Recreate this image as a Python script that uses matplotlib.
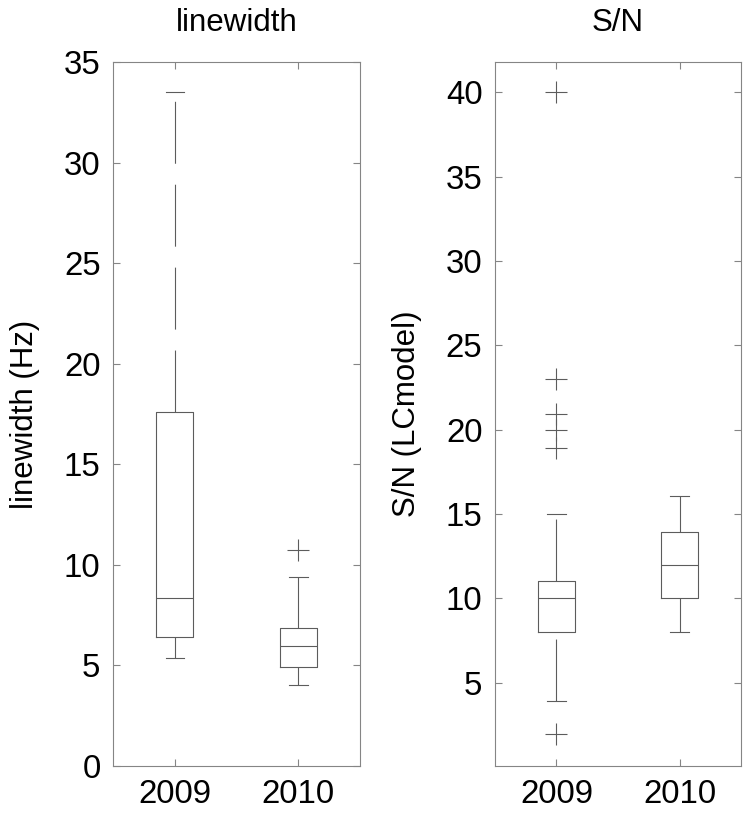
import matplotlib
matplotlib.use('Agg')
import matplotlib.pyplot as plt

plt.rcParams['font.family'] = ['Liberation Sans', 'DejaVu Sans']

years = ['2009', '2010']

# linewidth (Hz) box stats
lw_q1 = [6.4, 4.9]
lw_med = [8.35, 5.95]
lw_q3 = [17.6, 6.85]
lw_lo = [5.35, 4.05]
lw_hi = [33.5, 9.4]
lw_out = [[], [10.75]]

# S/N (LCmodel)
sn_q1 = [8.0, 10.0]
sn_med = [10.0, 12.0]
sn_q3 = [11.05, 13.9]
sn_lo = [3.9, 8.0]
sn_hi = [15.0, 16.05]
sn_out = [[40.0, 23.0, 20.9, 20.0, 18.9, 1.95], []]

boxcol = '#5c5c5c'
axcol = '#858585'
fs = 22.5
tfs = 23.8
lw = 0.8


def stats(q1, med, q3, lo, hi, out):
    res = []
    for i in range(len(q1)):
        res.append(dict(med=med[i], q1=q1[i], q3=q3[i], whislo=lo[i],
                        whishi=hi[i], fliers=out[i], label=years[i]))
    return res


def draw(ax, st, ylim, yticks, title, ylabel):
    props = dict(color=boxcol, linewidth=lw)
    d = ax.bxp(st, positions=[1, 2], widths=0.3, capwidths=0.15,
               boxprops=props, medianprops=props, capprops=props,
               whiskerprops=dict(color=boxcol, linewidth=lw,
                                 linestyle=(0, (44.6 / lw, 15.1 / lw))),
               flierprops=dict(marker='+', markersize=16.5, markeredgecolor=boxcol,
                               markeredgewidth=lw, linestyle='none'))
    # lower whiskers: start the dash pattern at the cap, like the original
    for w in d['whiskers'][0::2]:
        w.set_ydata(w.get_ydata()[::-1])
    ax.set_xlim(0.5, 2.5)
    ax.set_ylim(*ylim)
    ax.set_yticks(yticks)
    ax.set_xticks([1, 2])
    ax.set_xticklabels(years)
    for s in ax.spines.values():
        s.set_color(axcol)
        s.set_linewidth(lw)
    ax.tick_params(direction='in', length=5, width=lw, color=axcol,
                   labelsize=tfs, top=True, right=True)
    ax.tick_params(axis='y', pad=9)
    ax.tick_params(axis='x', pad=9)
    ax.set_title(title, fontsize=fs, pad=22)
    ax.set_ylabel(ylabel, fontsize=fs, labelpad=17)


fig = plt.figure(figsize=(7.51, 8.15), dpi=100)
ax1 = fig.add_axes([0.1505, 0.0601, 0.3289, 0.8638])
ax2 = fig.add_axes([0.6591, 0.0601, 0.3276, 0.8638])

draw(ax1, stats(lw_q1, lw_med, lw_q3, lw_lo, lw_hi, lw_out),
     (0, 35), range(0, 36, 5), 'linewidth', 'linewidth (Hz)')
draw(ax2, stats(sn_q1, sn_med, sn_q3, sn_lo, sn_hi, sn_out),
     (0.05, 41.8), range(5, 41, 5), 'S/N', 'S/N (LCmodel)')

fig.savefig('out.png', dpi=100)
